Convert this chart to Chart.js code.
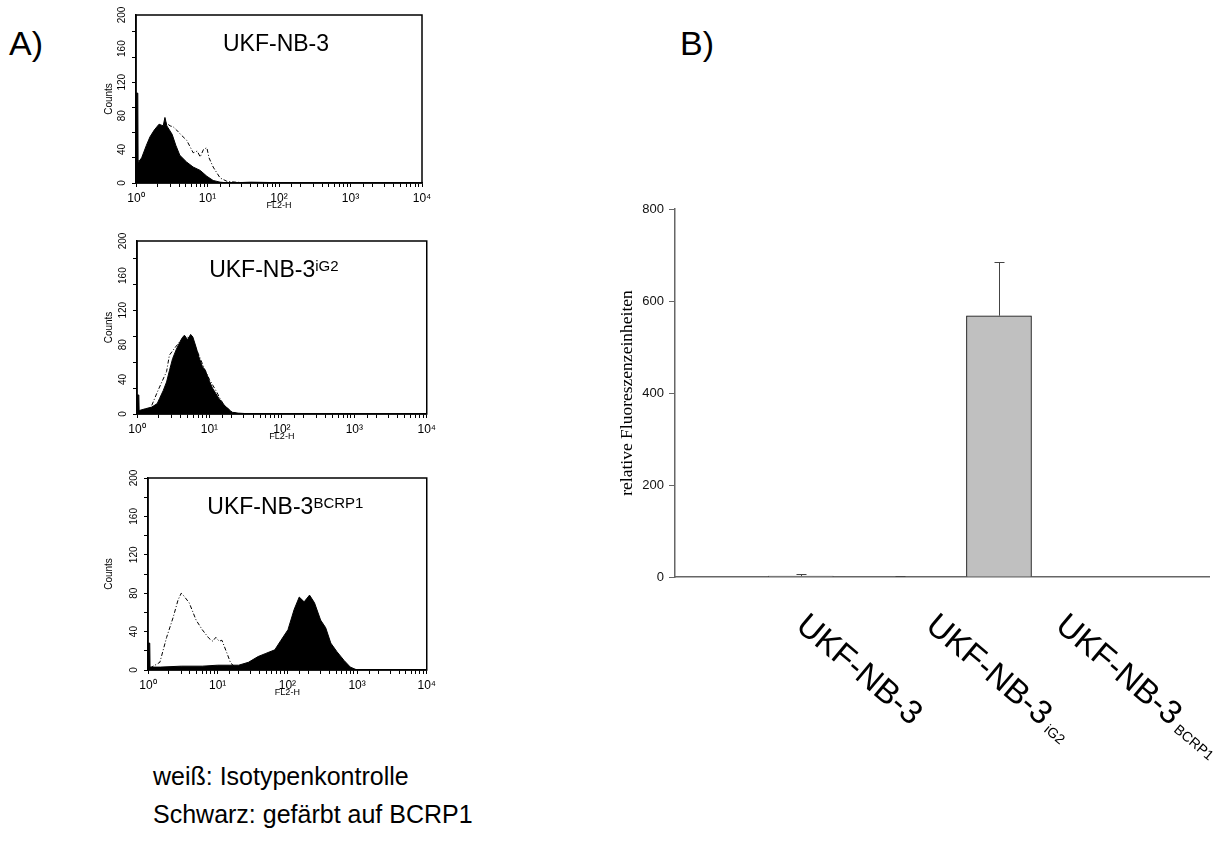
<!DOCTYPE html>
<html>
<head>
<meta charset="utf-8">
<script src="https://cdn.jsdelivr.net/npm/chart.js@4.4.1/dist/chart.umd.min.js"></script>
<style>
  body { margin: 0; background: #fff; width: 1231px; height: 844px; position: relative; overflow: hidden;
         font-family: Arial, "Liberation Sans", sans-serif; color: #000; }
  canvas { position: absolute; }
  .panel { position: absolute; font-size: 34px; line-height: 1; }
  .note { position: absolute; left: 153px; font-size: 25px; line-height: 1; }
</style>
</head>
<body>
<div class="panel" style="left:9px;top:26px">A)</div>
<div class="panel" style="left:680px;top:26px">B)</div>

<canvas id="hist1" width="350" height="225" style="left:90px;top:0px"></canvas>
<canvas id="hist2" width="350" height="235" style="left:90px;top:225px"></canvas>
<canvas id="hist3" width="350" height="250" style="left:90px;top:460px"></canvas>
<canvas id="bars" width="651" height="664" style="left:580px;top:180px"></canvas>

<div class="note" style="top:764px">weiß: Isotypenkontrolle</div>
<div class="note" style="top:802px">Schwarz: gefärbt auf BCRP1</div>

<script>
"use strict";

// A) FL2-H histograms: stained (black, filled) and isotype control (dashed)
const nb3StainX = [1, 1.06, 1.07, 1.2, 1.4, 1.57, 1.8, 2.1, 2.4, 2.54, 2.7, 3.2, 3.6, 4.1, 5.1, 6.3, 7.9, 9.8, 12, 15, 20, 40, 180, 10000];
const nb3StainY = [107, 107, 24, 30, 45, 55, 63, 70, 68, 78, 68, 58, 45, 33, 25, 19, 15, 8, 3, 1, 0, 1, 0, 0];
const nb3IsoX = [1, 1.2, 1.5, 1.8, 2.2, 2.6, 3.0, 3.3, 3.7, 4.3, 5.1, 5.8, 6.3, 7.2, 7.9, 8.8, 9.8, 10.5, 12, 15, 18.7, 25, 40, 10000];
const nb3IsoY = [25, 28, 45, 58, 66, 72, 68, 67, 63, 57, 51, 42, 36, 38, 31, 40, 42, 30, 19, 6, 2, 1, 0, 0];

const ig2StainX = [1, 1.06, 1.07, 1.3, 1.6, 1.9, 2.05, 2.3, 2.56, 2.8, 3.1, 3.5, 3.9, 4.2, 4.5, 5.0, 5.5, 5.9, 6.5, 7.2, 8.0, 8.9, 10, 11, 12.2, 13.5, 15, 17, 20.5, 25, 40, 10000];
const ig2StainY = [22, 22, 4, 6, 8, 12, 18, 27, 37, 50, 64, 75, 83, 88, 91, 86, 92, 89, 78, 65, 55, 49, 38, 30, 24, 18, 13, 8, 2, 1, 0, 0];
const ig2IsoX = [1.6, 1.9, 2.2, 2.56, 2.8, 3.3, 4.1, 4.6, 5.2, 6.0, 7.0, 8.0, 9.0, 10, 11, 12.5, 14, 16, 20, 25, 10000];
const ig2IsoY = [10, 25, 37, 49, 68, 76, 86, 90, 88, 82, 70, 58, 48, 40, 34, 26, 18, 10, 3, 0, 0];

const bcrpStainX = [1, 1.06, 1.07, 1.5, 3, 6, 10, 15, 20, 27.6, 38, 48, 66, 81, 102, 125, 148, 174, 208, 245, 300, 355, 420, 515, 650, 800, 1000, 10000];
const bcrpStainY = [28, 28, 3, 3, 4, 4, 5, 5, 5, 8, 14, 17, 21, 31, 42, 63, 76, 71, 78, 70, 52, 44, 28, 19, 10, 3, 0, 0];
const bcrpIsoX = [1.07, 1.48, 1.85, 2.3, 2.7, 3.0, 3.2, 3.9, 4.9, 6.0, 7.5, 8.5, 9.4, 10.5, 11.5, 13.5, 15.4, 18, 25, 10000];
const bcrpIsoY = [2, 8, 34, 55, 73, 80, 78, 70, 52, 42, 33, 30, 34, 30, 31, 18, 7, 3, 0, 0];

const countTicks = [0, 40, 80, 120, 160, 200];
const decadeLabels = ["10⁰", "10¹", "10²", "10³", "10⁴"];

// B) relative fluorescence units, mean + error
const barLabels = ["UKF-NB-3", "UKF-NB-3", "UKF-NB-3"];
const barSubs = ["", "iG2", "BCRP1"];
const barValues = [2, 0, 568];
const barErrors = [5, 3, 117];
const fluorTicks = [0, 200, 400, 600, 800];

Chart.defaults.font.family = 'Arial, "Liberation Sans", sans-serif';
Chart.defaults.color = "#000";
Chart.defaults.animation = false;

const toPoints = (xs, ys) => xs.map((x, i) => ({ x: x, y: ys[i] }));

const histDeco = {
    id: "histDeco",
    afterDraw(chart, args, opts) {
        const { ctx, chartArea: a, scales: { y } } = chart;
        ctx.save();
        ctx.strokeStyle = "#000";
        ctx.lineWidth = 1.5;
        ctx.strokeRect(a.left, a.top, a.right - a.left, a.bottom - a.top);

        // rotated count labels
        ctx.fillStyle = "#000";
        ctx.font = "10px Arial";
        ctx.textAlign = "center";
        ctx.textBaseline = "middle";
        countTicks.forEach((v) => {
            ctx.save();
            ctx.translate(a.left - 14, y.getPixelForValue(v));
            ctx.rotate(-Math.PI / 2);
            ctx.fillText(String(v), 0, 0);
            ctx.restore();
        });

        // title with superscript
        ctx.font = "23px Arial";
        const w1 = ctx.measureText(opts.title).width;
        ctx.font = "15px Arial";
        const w2 = opts.sup ? ctx.measureText(opts.sup).width : 0;
        const x0 = (a.left + a.right) / 2 - (w1 + w2) / 2 - opts.shift;
        const base = a.top + 36;
        ctx.textAlign = "left";
        ctx.textBaseline = "alphabetic";
        ctx.font = "23px Arial";
        ctx.fillText(opts.title, x0, base);
        if (opts.sup) {
            ctx.font = "15px Arial";
            ctx.fillText(opts.sup, x0 + w1, base - 6);
        }
        ctx.restore();
    },
};

// box = plot frame in page pixels [left, top, right, bottom]
function histChart(id, stain, iso, title, sup, box, shift) {
    const cv = document.getElementById(id);
    const cl = parseFloat(cv.style.left), ct = parseFloat(cv.style.top);
    const padLeft = box[0] - cl;
    const padTop = box[1] - ct;
    const padRight = cv.width - (box[2] - cl);
    const padBottom = cv.height - (box[3] - ct);

    return new Chart(cv, {
        type: "line",
        data: {
            datasets: [
                {
                    data: stain,
                    borderColor: "#000",
                    backgroundColor: "#000",
                    borderWidth: 1,
                    fill: "origin",
                    pointRadius: 0,
                    tension: 0,
                },
                {
                    data: iso,
                    borderColor: "#000",
                    borderWidth: 1,
                    borderDash: [4, 2, 1, 2],
                    fill: false,
                    pointRadius: 0,
                    tension: 0,
                },
            ],
        },
        options: {
            responsive: false,
            layout: { padding: { left: 0, top: padTop, right: padRight, bottom: 0 } },
            plugins: {
                legend: { display: false },
                tooltip: { enabled: false },
                histDeco: { title: title, sup: sup, shift: shift },
            },
            scales: {
                x: {
                    type: "logarithmic",
                    min: 1,
                    max: 10000,
                    afterFit: (s) => { s.height = padBottom; },
                    grid: { drawOnChartArea: false, tickLength: 4, color: "#000" },
                    border: { color: "#000", width: 1.5 },
                    ticks: {
                        autoSkip: false,
                        maxRotation: 0,
                        padding: 4,
                        font: { size: 12 },
                        callback: (v) => {
                            const e = Math.log10(v), r = Math.round(e);
                            return Math.abs(e - r) < 1e-6 ? decadeLabels[r] : "";
                        },
                    },
                    title: {
                        display: true,
                        text: "FL2-H",
                        font: { size: 9 },
                        padding: { top: 0, bottom: padBottom - 23 - 5.4 },
                    },
                },
                y: {
                    min: 0,
                    max: 200,
                    afterFit: (s) => { s.width = padLeft; },
                    grid: { drawOnChartArea: false, tickLength: 4, color: "#000" },
                    border: { color: "#000", width: 1.5 },
                    ticks: { stepSize: 10, callback: () => "" },
                    title: {
                        display: true,
                        text: "Counts",
                        font: { size: 10 },
                        padding: { top: 13, bottom: 0 },
                    },
                },
            },
        },
        plugins: [histDeco],
    });
}

histChart("hist1", toPoints(nb3StainX, nb3StainY), toPoints(nb3IsoX, nb3IsoY), "UKF-NB-3", "", [136, 15, 422, 183], 3);
histChart("hist2", toPoints(ig2StainX, ig2StainY), toPoints(ig2IsoX, ig2IsoY), "UKF-NB-3", "iG2", [137, 241, 430, 414], 8);
histChart("hist3", toPoints(bcrpStainX, bcrpStainY), toPoints(bcrpIsoX, bcrpIsoY), "UKF-NB-3", "BCRP1", [148, 478, 431, 670], 2);

// B) bar chart with error bars and slanted labels
const barDeco = {
    id: "barDeco",
    afterDatasetsDraw(chart) {
        const { ctx, scales: { x, y } } = chart;
        ctx.save();
        ctx.strokeStyle = "#444";
        ctx.lineWidth = 1;
        barValues.forEach((v, i) => {
            const px = Math.round(x.getPixelForValue(i + 1)) + 0.5;
            const y0 = y.getPixelForValue(v);
            const y1 = Math.round(y.getPixelForValue(v + barErrors[i])) + 0.5;
            ctx.beginPath();
            ctx.moveTo(px, y0);
            ctx.lineTo(px, y1);
            ctx.moveTo(px - 5, y1);
            ctx.lineTo(px + 5, y1);
            ctx.stroke();
        });
        ctx.restore();
    },
    afterDraw(chart) {
        const { ctx, scales: { x } } = chart;
        ctx.save();
        ctx.fillStyle = "#000";
        ctx.textAlign = "left";
        ctx.textBaseline = "alphabetic";
        barLabels.forEach((lab, i) => {
            // labels sit at their own even spacing along the axis
            const px = x.getPixelForValue(x.max * (0.225 + 0.27 * i));
            ctx.save();
            ctx.translate(px, x.top + 33);
            ctx.rotate((40 * Math.PI) / 180);
            ctx.font = "33px Arial";
            ctx.fillText(lab, 0, 24);
            const w = ctx.measureText(lab).width;
            if (barSubs[i]) {
                ctx.font = "14px Arial";
                ctx.fillText(barSubs[i], w + 5, 26);
            }
            ctx.restore();
        });
        ctx.restore();
    },
};

new Chart(document.getElementById("bars"), {
    type: "bar",
    data: {
        datasets: [
            {
                data: barValues.map((v, i) => ({ x: i + 1, y: v })),
                backgroundColor: "#c0c0c0",
                borderColor: "#000",
                borderWidth: 1,
                barThickness: 65,
            },
        ],
    },
    options: {
        responsive: false,
        layout: { padding: { left: 0, top: 29, right: 22, bottom: 0 } },
        plugins: { legend: { display: false }, tooltip: { enabled: false } },
        scales: {
            x: {
                type: "linear",
                min: 0,
                max: 4.85,
                afterFit: (s) => { s.height = 267; },
                grid: { display: false },
                border: { color: "#666", width: 1.5 },
                ticks: { display: false },
            },
            y: {
                min: 0,
                max: 800,
                afterFit: (s) => { s.width = 95; },
                afterBuildTicks: (s) => { s.ticks = fluorTicks.map((v) => ({ value: v })); },
                grid: { drawOnChartArea: false, tickLength: 6, color: "#666" },
                border: { color: "#666", width: 1.5 },
                ticks: { padding: 5, font: { size: 13 }, color: "#111" },
                title: {
                    display: true,
                    text: "relative Fluoreszenzeinheiten",
                    font: { family: '"Liberation Serif", "Times New Roman", serif', size: 17.5 },
                    padding: { top: 37, bottom: 0 },
                },
            },
        },
    },
    plugins: [barDeco],
});
</script>
</body>
</html>
